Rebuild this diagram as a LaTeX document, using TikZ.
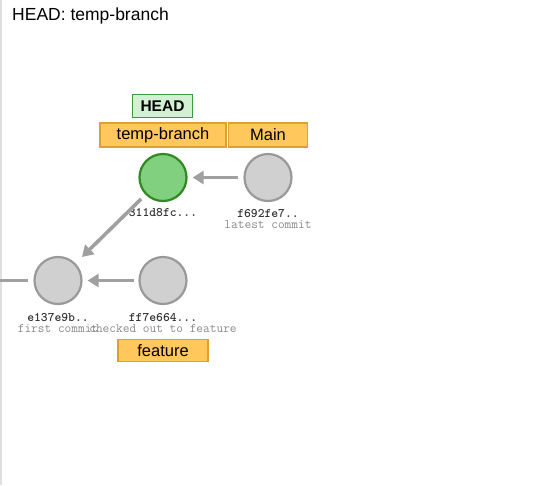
\documentclass[tikz,border=0pt]{standalone}
\usepackage{fontspec}
\setmainfont{Liberation Sans}
\usetikzlibrary{arrows.meta}
\definecolor{brfill}{HTML}{FFC75C}
\definecolor{brdraw}{HTML}{E0A030}
\definecolor{hdfill}{HTML}{D2F0D2}
\definecolor{hddraw}{HTML}{3E9A3E}
\definecolor{cgfill}{HTML}{80D080}
\definecolor{cgdraw}{HTML}{2F8A1F}
\definecolor{cfill}{HTML}{D0D0D0}
\definecolor{cdraw}{HTML}{999999}
\definecolor{arr}{HTML}{A0A0A0}
\definecolor{hashc}{HTML}{333333}
\definecolor{descc}{HTML}{8A8A8A}
\tikzset{
  commit/.style={circle, minimum size=47pt, inner sep=0pt, fill=cfill, draw=cdraw, line width=2.2pt},
  headcommit/.style={commit, fill=cgfill, draw=cgdraw},
  branchbox/.style={draw=brdraw, fill=brfill, line width=1.6pt, inner sep=0pt, font=\fontsize{16.5}{18}\selectfont},
  headbox/.style={draw=hddraw, fill=hdfill, line width=1.6pt, inner sep=0pt, font=\fontsize{15.5}{17}\selectfont\bfseries},
  hashlbl/.style={font=\ttfamily\bfseries\fontsize{13}{14}\selectfont, text=hashc, inner sep=0pt},
  desclbl/.style={font=\ttfamily\fontsize{13}{14}\selectfont, text=descc, inner sep=0pt},
  parent/.style={draw=arr, line width=3.6pt, -{Triangle[length=11pt,width=13pt]}},
}
\begin{document}
\begin{tikzpicture}[x=1pt,y=-1pt]
\useasboundingbox (0,0) rectangle (551,485);
\fill[white] (0,0) rectangle (551,485);
\fill[black!12] (0,0) rectangle (2,485);
\node[anchor=base west, inner sep=0pt, font=\fontsize{17.5}{20}\selectfont] (title) at (12,20) {HEAD: temp-branch};

% commits
\node[headcommit] (c311) at (163,177.5) {};
\node[commit] (cf69) at (268,177.5) {};
\node[commit] (ce13) at (58,280.5) {};
\node[commit] (cff7) at (163,280.5) {};

% labels
\node[hashlbl] (l311) at (163,213) {311d8fc...};
\node[hashlbl] (lf69) at (268,213) {f692fe7..};
\node[desclbl] (df69) at (268,224.5) {latest commit};
\node[hashlbl] (le13) at (58,317) {e137e9b..};
\node[desclbl] (de13) at (58,328.5) {first commit};
\node[hashlbl] (lff7) at (163,317) {ff7e664...};
\node[desclbl] (dff7) at (163,328.5) {checked out to feature};

% branches
\node[branchbox, minimum width=126pt, minimum height=24pt] (btemp) at (163,135) {temp-branch};
\node[branchbox, minimum width=79pt, minimum height=24pt] (bmain) at (268,135) {Main};
\node[headbox, minimum width=60pt, minimum height=23pt] (head) at (162.5,106) {HEAD};
\node[branchbox, minimum width=90pt, minimum height=22pt] (bfeat) at (163,350.5) {feature};

% edges
\draw[parent, shorten <=5pt, shorten >=5pt] (cf69) -- (c311);
\draw[parent, shorten <=6pt, shorten >=9pt] (c311) -- (ce13);
\draw[parent, shorten <=4pt, shorten >=5pt] (cff7) -- (ce13);
\coordinate (prev) at (0,280.5);
\draw[draw=arr, line width=3.6pt, shorten >=5pt] (prev) -- (ce13);
\end{tikzpicture}
\end{document}
